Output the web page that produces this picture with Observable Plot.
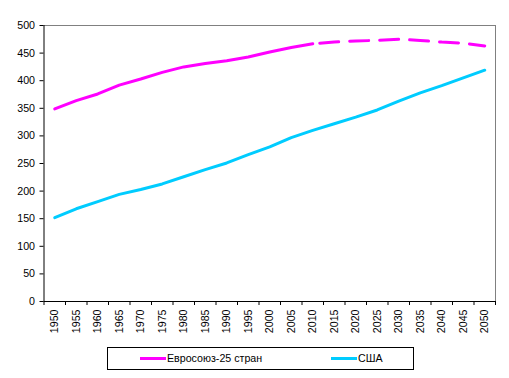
<!DOCTYPE html>
<html><head><meta charset="utf-8">
<script src="https://cdn.jsdelivr.net/npm/d3@7"></script>
<script src="https://cdn.jsdelivr.net/npm/@observablehq/plot@0.6"></script>
<style>
body{margin:0;background:#fff;font-family:"Liberation Sans",Arial,sans-serif;}
#wrap{position:relative;width:509px;height:378px;}
#legend{position:absolute;left:107px;top:347px;width:305px;height:21px;border:1px solid #000;font-size:10.67px;color:#000;}
#legend .sw{position:absolute;height:3px;top:9px;width:26px;}
#legend .lb{position:absolute;top:4px;line-height:12px;white-space:nowrap;}
</style></head>
<body><div id="wrap"><div id="chart"></div>
<div id="legend"></div></div>
<script>
const years = [1950,1955,1960,1965,1970,1975,1980,1985,1990,1995,2000,2005,2010,2015,2020,2025,2030,2035,2040,2045,2050];
const eu25 = [349,364,376,392,403,415,425,431,436,443,452,460,467,470,472,473,475,473,470,468,463];
const usa  = [152,168,181,194,203,213,226,239,251,266,280,297,310,322,334,347,363,378,391,405,419];
const yTicks = [0,50,100,150,200,250,300,350,400,450,500];
const seriesNames = ["Евросоюз-25 стран","США"];
const colors = ["#FF00FF","#00CCFF"];
const projectionStart = 2010;

const euRows = years.map((y,i)=>({year:y, value:eu25[i]}));
const usRows = years.map((y,i)=>({year:y, value:usa[i]}));
const euHist = euRows.filter(d=>d.year<=projectionStart);
const euProj = euRows.filter(d=>d.year>=projectionStart);
const bounds = years.map(y=>y-2.5).concat([years[years.length-1]+2.5]);

const chart = Plot.plot({
  width:509, height:340,
  marginLeft:43.5, marginRight:14, marginTop:25, marginBottom:39,
  style:{fontFamily:"Liberation Sans, Arial, sans-serif", fontSize:"10.67px", color:"#000", background:"#fff"},
  x:{type:"linear", domain:[bounds[0], bounds[bounds.length-1]], axis:null},
  y:{domain:[0,500], axis:null},
  marks:[
    Plot.ruleY([500],{stroke:"#808080", strokeWidth:1}),
    Plot.ruleX([bounds[bounds.length-1]],{stroke:"#808080", strokeWidth:1}),
    Plot.axisY({ticks:yTicks, tickSize:4, tickPadding:5, stroke:"#000", strokeOpacity:1, label:null}),
    Plot.axisX({ticks:bounds, tickSize:4, tickFormat:()=>"", stroke:"#000", strokeOpacity:1, label:null}),
    Plot.axisX({ticks:years, tickSize:0, tickPadding:8, tickRotate:-90, tickFormat:d=>String(d), label:null}),
    Plot.ruleX([bounds[0]],{stroke:"#000"}),
    Plot.ruleY([0],{stroke:"#000"}),
    Plot.line(usRows,{x:"year", y:"value", stroke:colors[1], strokeWidth:3}),
    Plot.line(euHist,{x:"year", y:"value", stroke:colors[0], strokeWidth:3}),
    Plot.line(euProj,{x:"year", y:"value", stroke:colors[0], strokeWidth:3, strokeDasharray:"19,11", strokeDashoffset:23})
  ]
});
document.getElementById("chart").appendChild(chart);

const lg = document.getElementById("legend");
const pos = [[32,59],[223,250]];
seriesNames.forEach((n,i)=>{
  const s=document.createElement("div"); s.className="sw"; s.style.left=pos[i][0]+"px"; s.style.background=colors[i]; lg.appendChild(s);
  const t=document.createElement("div"); t.className="lb"; t.style.left=pos[i][1]+"px"; t.textContent=n; lg.appendChild(t);
});
</script></body></html>
